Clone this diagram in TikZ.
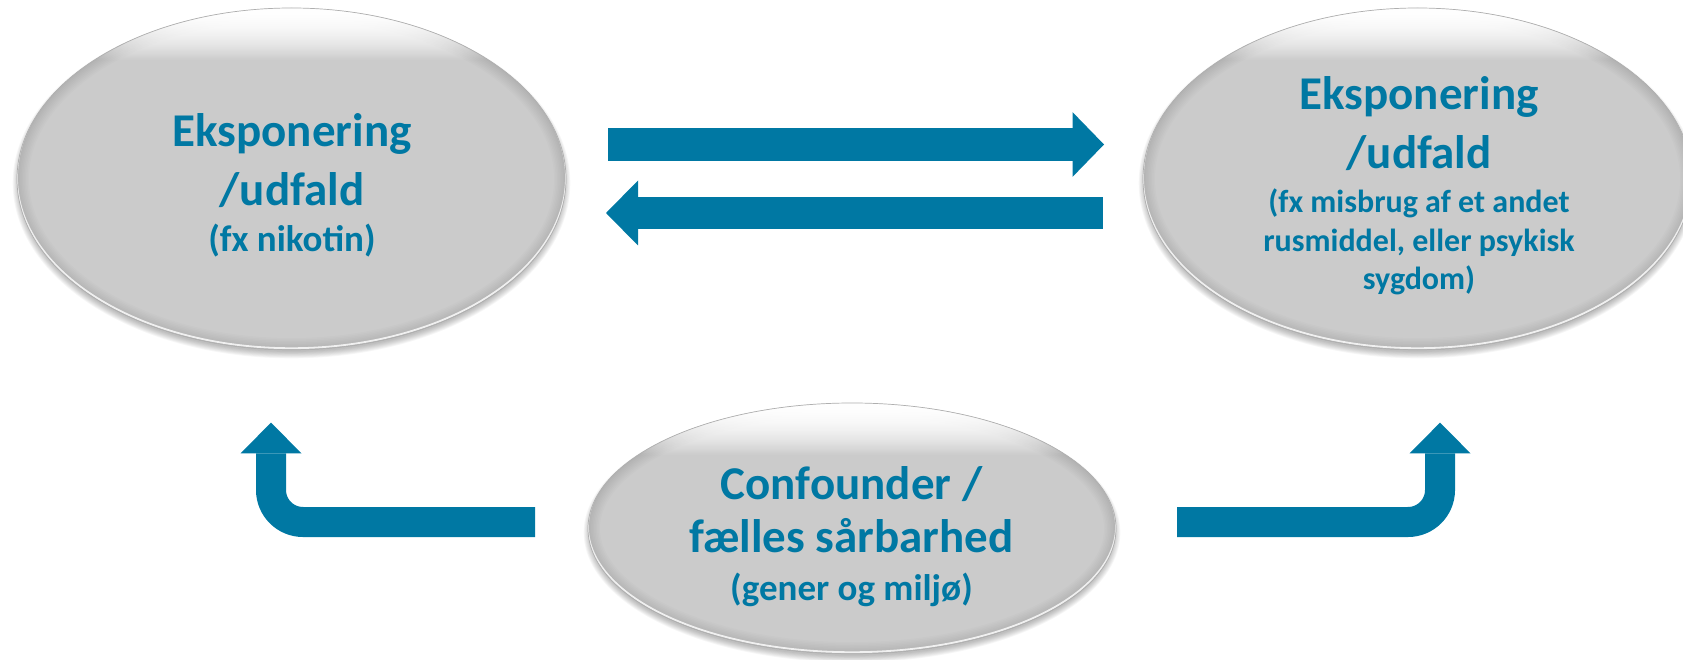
\documentclass[tikz,border=0pt]{standalone}
\usepackage{fontspec}
\setmainfont{Carlito}
\usetikzlibrary{shapes.geometric,arrows.meta,fadings,calc}

\definecolor{petrol}{RGB}{0,120,163}
\definecolor{bubblegray}{RGB}{203,203,203}
\definecolor{rimgray}{RGB}{175,175,175}

% white cap: solid at the top edge, fading out downwards
\tikzfading[name=capfade, top color=transparent!0, middle color=transparent!30, bottom color=transparent!100]

\tikzset{
  bubble/.style={ellipse, inner sep=0pt, draw=none, fill=none},
  bigtxt/.style={text=petrol, font=\fontsize{47}{56}\selectfont\bfseries, anchor=base, inner sep=0pt},
  midtxt/.style={text=petrol, font=\fontsize{37}{44}\selectfont\bfseries, anchor=base, inner sep=0pt},
  smalltxt/.style={text=petrol, font=\fontsize{32}{38}\selectfont\bfseries, anchor=base, inner sep=0pt},
  flow/.style={draw=petrol, line cap=butt, line join=miter},
}

% glossy grey ellipse: #1 centre (x,y), #2 x radius, #3 y radius
\newcommand\glossybubble[3]{%
  % soft shadow underneath
  \foreach \k in {0,...,7}{%
    \fill[black, opacity=0.035] ([yshift=-4pt]#1) ellipse [x radius=#2-2+\k*0.9, y radius=#3-2+\k*0.9];
  }
  \fill[bubblegray] (#1) ellipse [x radius=#2, y radius=#3];
  \begin{scope}
    \clip (#1) ellipse [x radius=#2, y radius=#3];
    % slightly darker rim
    \foreach \w in {3,6,...,24}{%
      \draw[black, opacity=0.013, line width=\w pt] (#1) ellipse [x radius=#2, y radius=#3];
    }
    % light cap along the top (laid twice for a brighter edge)
    \foreach \n in {1,2}{%
      \fill[white, path fading=capfade] ($(#1)+(-#2,-#3)$) rectangle ($(#1)+(#2,-#3+52)$);
    }
    % sheen on the lower edge
    \draw[white, opacity=0.8, line width=1.8pt] ([yshift=1.8pt]#1) ellipse [x radius=#2, y radius=#3];
  \end{scope}
  \draw[rimgray, line width=0.7pt] (#1) ellipse [x radius=#2, y radius=#3];
}

\begin{document}
\begin{tikzpicture}[x=1pt, y=-1pt]
  \useasboundingbox (0,0) rectangle (1683,660);

  % ---- the three ellipses ----
  \glossybubble{291.5,179}{274.5}{171}
  \node[bubble, minimum width=549pt, minimum height=342pt] (L) at (291.5,179) {};
  \node[bigtxt] (L1) at (292,147) {Eksponering};
  \node[bigtxt] (L2) at (292,206) {/udfald};
  \node[midtxt] (L3) at (292,252) {(fx nikotin)};

  \glossybubble{1417.5,179}{274.5}{171}
  \node[bubble, minimum width=549pt, minimum height=342pt] (R) at (1417.5,179) {};
  \node[bigtxt] (R1) at (1419,109.5) {Eksponering};
  \node[bigtxt] (R2) at (1419,168.5) {/udfald};
  \node[smalltxt] (R3) at (1419,213) {(fx misbrug af et andet};
  \node[smalltxt] (R4) at (1419,252) {rusmiddel, eller psykisk};
  \node[smalltxt] (R5) at (1419,289) {sygdom)};

  \glossybubble{852,528.5}{264}{125.5}
  \node[bubble, minimum width=528pt, minimum height=251pt] (C) at (852,528.5) {};
  \node[bigtxt] (C1) at (851.5,499) {Confounder /};
  \node[bigtxt] (C2) at (851.5,552) {fælles sårbarhed};
  \node[midtxt] (C3) at (851.5,600) {(gener og miljø)};

  % ---- arrows between the two upper ellipses ----
  \coordinate (fw0) at (608,144.5);
  \coordinate (fw1) at (1104,144.5);
  \draw[flow, line width=32.7pt,
        -{Triangle[length=31.4pt, width=64.6pt, line width=0pt]}] (fw0) -- (fw1);

  \coordinate (bw0) at (1102.5,213);
  \coordinate (bw1) at (606,213);
  \draw[flow, line width=32.3pt,
        -{Triangle[length=32pt, width=65pt, line width=0pt]}] (bw0) -- (bw1);

  % ---- bent arrows from the confounder ----
  \coordinate (cl0) at (535,522);
  \coordinate (clc) at (271,522);
  \coordinate (cl1) at (271,422.7);
  \draw[flow, line width=30pt, rounded corners=32pt,
        -{Triangle[length=30.6pt, width=61pt, line width=0pt]}] (cl0) -- (clc) -- (cl1);

  \coordinate (cr0) at (1177,522);
  \coordinate (crc) at (1440,522);
  \coordinate (cr1) at (1440,422.7);
  \draw[flow, line width=30pt, rounded corners=32pt,
        -{Triangle[length=30.6pt, width=61pt, line width=0pt]}] (cr0) -- (crc) -- (cr1);
\end{tikzpicture}
\end{document}
